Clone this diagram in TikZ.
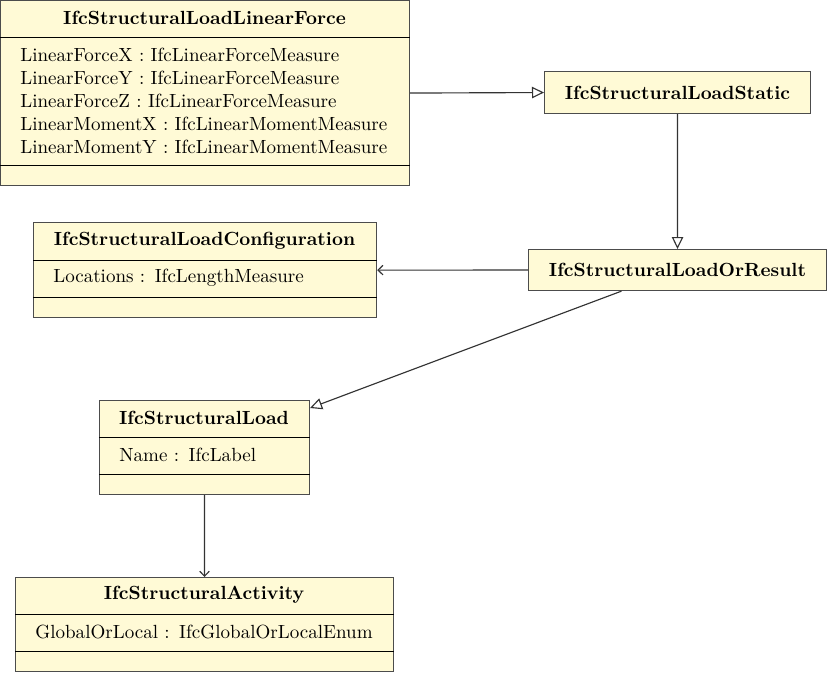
\documentclass[tikz,border=0pt]{standalone}
\usepackage{amsmath}
\usetikzlibrary{calc, arrows.meta}
\definecolor{classfill}{RGB}{255,250,214}
\tikzset{>=stealth}
\tikzset{
  classbox/.style={draw=black!70, fill=classfill, line width=0.6pt, anchor=north west, inner sep=0pt},
  sepline/.style={draw=black, line width=0.45pt},
  titletext/.style={inner sep=0pt, font=\bfseries},
  attrtext/.style={inner sep=0pt, anchor=west, align=left},
  inherit/.style={draw=black!80, line width=0.6pt, -{Triangle[open, length=6.3pt, width=6pt]}},
  assoc/.style={draw=black!80, line width=0.6pt, -{Straight Barb[length=2.6pt, width=5pt]}}
}

\begin{document}
\begin{tikzpicture}[x=0.525pt, y=-0.525pt]
\useasboundingbox (0,0) rectangle (827,672);
% class boxes
\node[classbox, minimum width=214.7pt, minimum height=97.1pt] (lforce) at (0,0) {};
\node[classbox, minimum width=139.6pt, minimum height=22pt] (lstatic) at (544,71) {};
\node[classbox, minimum width=156.4pt, minimum height=21.5pt] (lresult) at (528,249) {};
\node[classbox, minimum width=180.1pt, minimum height=49.9pt] (lconfig) at (33,222) {};
\node[classbox, minimum width=110.2pt, minimum height=49.3pt] (sload) at (99,400) {};
\node[classbox, minimum width=198.4pt, minimum height=49.3pt] (sactivity) at (15,577) {};
% compartments
\draw[sepline] (lforce.west |- 0,37) -- (lforce.east |- 0,37);
\draw[sepline] (lforce.west |- 0,165) -- (lforce.east |- 0,165);
\draw[sepline] (lconfig.west |- 0,260) -- (lconfig.east |- 0,260);
\draw[sepline] (lconfig.west |- 0,297) -- (lconfig.east |- 0,297);
\draw[sepline] (sload.west |- 0,437) -- (sload.east |- 0,437);
\draw[sepline] (sload.west |- 0,474) -- (sload.east |- 0,474);
\draw[sepline] (sactivity.west |- 0,614) -- (sactivity.east |- 0,614);
\draw[sepline] (sactivity.west |- 0,651) -- (sactivity.east |- 0,651);
% titles
\node[titletext] (lforcet) at (204.5,18) {IfcStructuralLoadLinearForce};
\node[titletext] (lstatict) at (lstatic) {IfcStructuralLoadStatic};
\node[titletext] (lresultt) at (lresult) {IfcStructuralLoadOrResult};
\node[titletext] (lconfigt) at (204.5,241) {IfcStructuralLoadConfiguration};
\node[titletext] (sloadt) at (204,418) {IfcStructuralLoad};
\node[titletext] (sactivityt) at (204,595) {IfcStructuralActivity};
% attributes
\node[attrtext] (lforcea) at (20,101) {LinearForceX : IfcLinearForceMeasure\\
  LinearForceY : IfcLinearForceMeasure\\
  LinearForceZ : IfcLinearForceMeasure\\
  LinearMomentX : IfcLinearMomentMeasure\\
  LinearMomentY : IfcLinearMomentMeasure};
\node[attrtext] (lconfiga) at (53,278) {Locations :\enspace IfcLengthMeasure};
\node[attrtext] (sloada) at (119,455) {Name :\enspace IfcLabel};
\node[attrtext] (sactivitya) at (35,632) {GlobalOrLocal :\enspace IfcGlobalOrLocalEnum};
% relations
\draw[inherit] (lforce.east) -- (lstatic.west);
\draw[inherit] (lstatic.south) -- (lresult.north);
\draw[assoc] (lresult.west) -- (lconfig.east);
\draw[inherit] ($(lresult.south)+(-56,0)$) -- ($(sload.north east)+(0,8)$);
\draw[assoc] (sload.south) -- (sactivity.north);
\end{tikzpicture}
\end{document}
